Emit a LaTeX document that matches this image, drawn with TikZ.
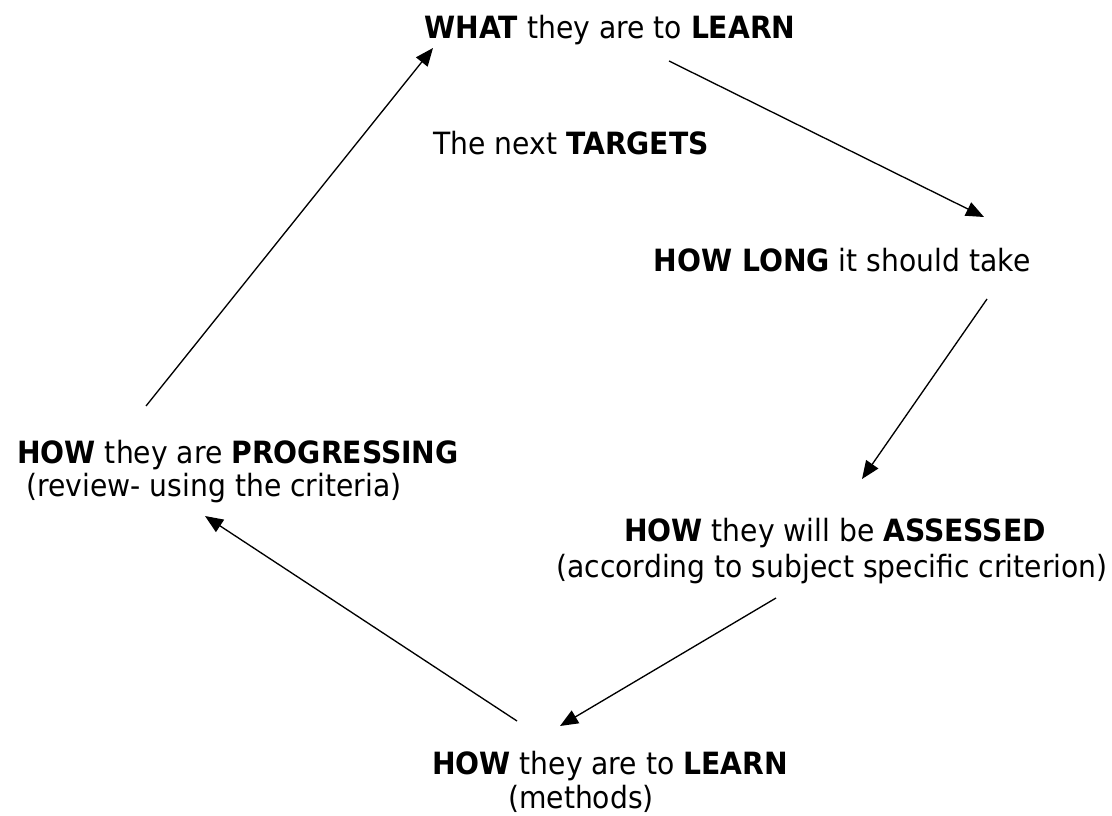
\documentclass[tikz,border=0pt]{standalone}
\usepackage{fontspec}
\setmainfont{DejaVu Sans}
\usetikzlibrary{arrows.meta}

\begin{document}
\begin{tikzpicture}[x=0.75pt, y=-0.75pt,
  txt/.style={anchor=base, inner sep=0pt, xscale=0.92, font=\fontsize{23}{27}\selectfont},
  link/.style={->, line width=1pt}, >={Triangle[length=13.5pt, width=11pt]}]
\useasboundingbox (0,0) rectangle (1112,816);
% stages of the cycle
\node[txt] (what) at (610,39) {\textbf{WHAT} they are to \textbf{LEARN}};
\node[txt] (targets) at (571,155) {The next \textbf{TARGETS}};
\node[txt] (long) at (842,272) {\textbf{HOW LONG} it should take};
\node[txt] (assess) at (835,541) {\textbf{HOW} they will be \textbf{ASSESSED}};
\node[txt] (assesssub) at (832,577) {(according to subject specific criterion)};
\node[txt] (learn) at (610,774) {\textbf{HOW} they are to \textbf{LEARN}};
\node[txt] (learnsub) at (581,808) {(methods)};
\node[txt] (prog) at (238,463) {\textbf{HOW} they are \textbf{PROGRESSING}};
\node[txt] (progsub) at (214,496) {(review- using the criteria)};
% arrow ends
\coordinate (w1) at (669,61);   \coordinate (l0) at (984,217);
\coordinate (l1) at (987,299);  \coordinate (a0) at (862,479);
\coordinate (a1) at (776,598);  \coordinate (m0) at (560,726);
\coordinate (m1) at (517,721);  \coordinate (p0) at (205,516);
\coordinate (p1) at (146,406);  \coordinate (w0) at (433,48);
\draw[link] (w1) -- (l0);
\draw[link] (l1) -- (a0);
\draw[link] (a1) -- (m0);
\draw[link] (m1) -- (p0);
\draw[link] (p1) -- (w0);
\end{tikzpicture}
\end{document}
